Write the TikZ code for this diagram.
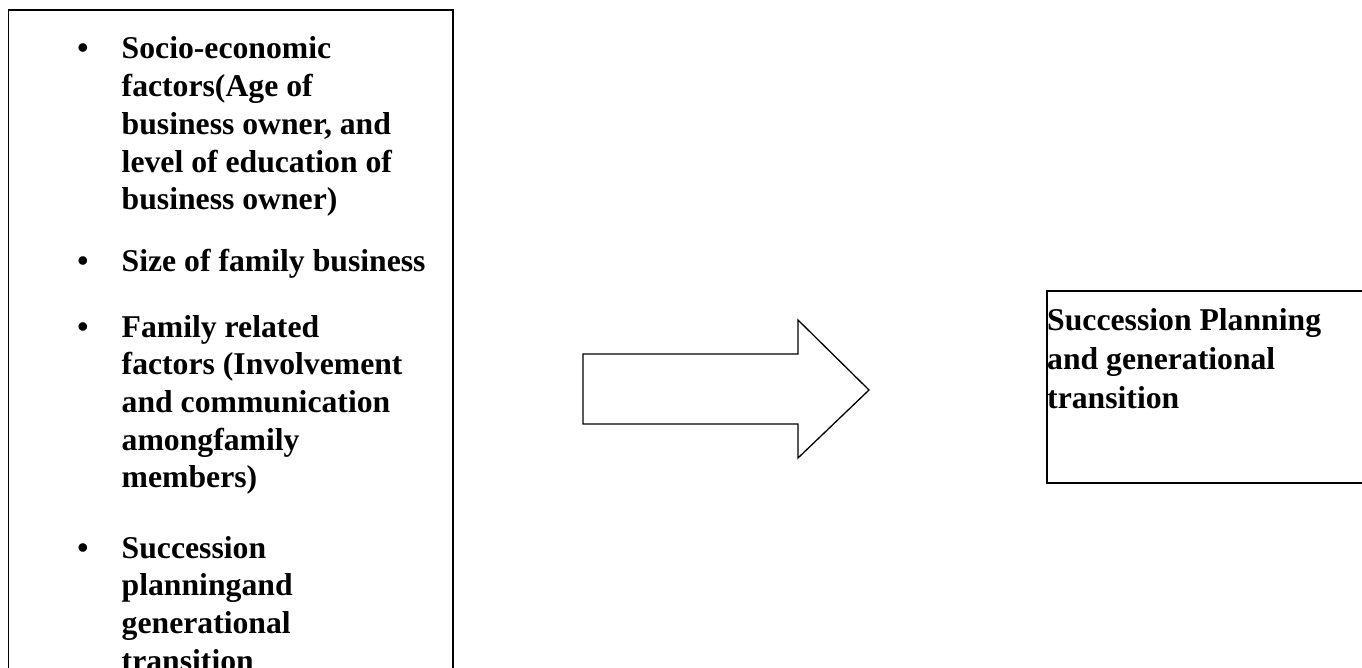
\documentclass[tikz,border=0pt]{standalone}
\usepackage{fontspec}
\setmainfont{Liberation Serif}
\tikzset{framebox/.style={draw, line width=1.6pt, inner sep=0pt, anchor=north west},
 itemtext/.style={anchor=base west, inner sep=0pt, font=\bfseries\fontsize{31.7}{37.7}\selectfont},
 bulletmark/.style={anchor=base, inner sep=0pt, font=\bfseries\fontsize{31.7}{37.7}\selectfont},
 boxtext/.style={anchor=base west, inner sep=0pt, font=\bfseries\fontsize{31.7}{39}\selectfont}}

\begin{document}
\begin{tikzpicture}[x=1pt,y=-1pt]
   \clip (0,0) rectangle (1362,668);
   % left box with the factors
   \node[framebox, minimum width=444.5pt, minimum height=720pt] (factors) at (7.5,9.5) {};
   \node[bulletmark] (b1) at (83,59) {\textbullet};
   \node[itemtext] (i1) at (121.5,59) {\parbox[t]{330pt}{\raggedright Socio-economic\\ factors(Age of\\ business owner, and\\ level of education of\\ business owner)}};
   \node[bulletmark] (b2) at (83,272) {\textbullet};
   \node[itemtext] (i2) at (121.5,272) {Size of family business};
   \node[bulletmark] (b3) at (83,337) {\textbullet};
   \node[itemtext] (i3) at (121.5,337) {\parbox[t]{330pt}{\raggedright Family related\\ factors (Involvement\\ and communication\\ amongfamily\\ members)}};
   \node[bulletmark] (b4) at (83,558) {\textbullet};
   \node[itemtext] (i4) at (121.5,558) {\parbox[t]{330pt}{\raggedright Succession\\ planningand\\ generational\\ transition}};
   % block arrow
   \draw[line width=1.3pt, line join=miter]
     (583,354) -- (798,354) -- (798,320) -- (869,390) -- (798,458) -- (798,424) -- (583,424) -- cycle;
   % right box
   \node[framebox, minimum width=330pt, minimum height=192pt] (outcome) at (1046,290) {};
   \node[boxtext] (o1) at (1047,330) {\parbox[t]{320pt}{\raggedright Succession Planning\\ and generational\\ transition}};
\end{tikzpicture}
\end{document}
